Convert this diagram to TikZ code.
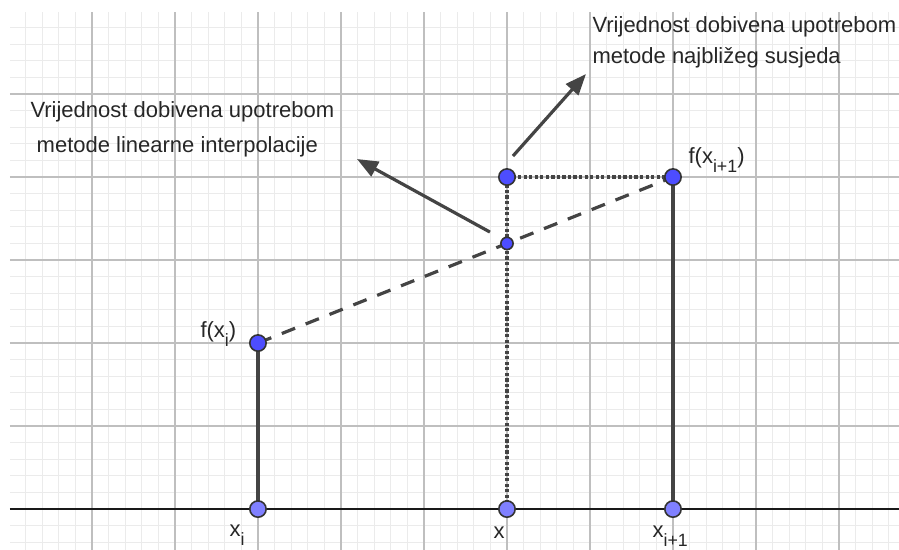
\documentclass[tikz,border=0pt]{standalone}
\usepackage{fontspec}
\setmainfont{Liberation Sans}
\usetikzlibrary{arrows.meta,positioning}
\definecolor{ptblue}{RGB}{77,77,255}
\definecolor{axblue}{RGB}{128,128,255}
\definecolor{segcol}{RGB}{68,68,68}
\newcommand\indx[1]{\raisebox{-0.42em}{\fontsize{6.1pt}{6.1pt}\selectfont #1}}

\begin{document}
\begin{tikzpicture}[>={Triangle[length=7.2pt,width=5.6pt]}]
  \tikzstyle{minorgrid}=[line width=0.35pt,black!8]
  \tikzstyle{majorgrid}=[line width=0.4pt,black!25]
  \tikzstyle{seg}=[line width=1.1pt,segcol]
  \tikzstyle{dots}=[line width=1.2pt,segcol,dash pattern=on 1.1pt off 0.8pt]
  \tikzstyle{pt}=[circle,draw=black!80,line width=0.55pt,fill=ptblue,inner sep=0pt,minimum size=5.6pt]
  \tikzstyle{axpt}=[pt,fill=axblue]
  \tikzstyle{lbl}=[inner sep=0pt,anchor=base west,text=black!85,font=\fontsize{7.54pt}{9pt}\selectfont]
  \tikzstyle{note}=[lbl,anchor=north west,align=left]
  \useasboundingbox (-3.108,-0.482) rectangle (7.723,6.133);
  \draw[minorgrid,step=0.2] (-2.99,-0.49) grid (7.73,5.99);
  \draw[majorgrid,step=1] (-2.99,-0.49) grid (7.73,5.99);
  \coordinate (axl) at (-2.99,0);
  \coordinate (axr) at (7.73,0);
  \draw[line width=0.7pt,black!90] (axl) -- (axr);
  \coordinate (xi) at (0,0);
  \coordinate (fxi) at (0,2);
  \coordinate (xx) at (3,0);
  \coordinate (fx) at (3,3.2);
  \coordinate (nn) at (3,4);
  \coordinate (xj) at (5,0);
  \coordinate (fxj) at (5,4);
  \coordinate (tlin) at (2.795,3.337);
  \coordinate (hlin) at (1.193,4.217);
  \coordinate (tnn) at (3.072,4.253);
  \coordinate (hnn) at (3.952,5.241);
  \draw[seg] (xi) -- (fxi);
  \draw[seg] (xj) -- (fxj);
  \draw[seg,dash pattern=on 4.9pt off 3.9pt] (fxi) -- (fxj);
  \draw[dots] (xx) -- (nn);
  \draw[dots] (nn) -- (fxj);
  \draw[seg,->] (tlin) -- (hlin);
  \draw[seg,->] (tnn) -- (hnn);
  \node[axpt] (pxi) at (xi) {};
  \node[axpt] (pxx) at (xx) {};
  \node[axpt] (pxj) at (xj) {};
  \node[pt] (pfxi) at (fxi) {};
  \node[pt] (pnn) at (nn) {};
  \node[pt] (pfxj) at (fxj) {};
  \node[pt,minimum size=4.2pt] (pfx) at (fx) {};
  \node[lbl] (lfxi) at ([shift={(-0.699,0.072)}]fxi) {f(x\indx{i})};
  \node[lbl] (lfxj) at ([shift={(0.181,0.169)}]fxj) {f(x\indx{i+1})};
  \node[lbl] (lxi) at ([shift={(-0.349,-0.33)}]xi) {x\indx{i}};
  \node[lbl] (lxx) at ([shift={(-0.169,-0.35)}]xx) {x};
  \node[lbl] (lxj) at ([shift={(-0.253,-0.345)}]xj) {x\indx{i+1}};
  \node[note,font=\fontsize{7.54pt}{11.8pt}\selectfont] (nlin) at (-2.747,4.912) {Vrijednost dobivena upotrebom\\\hspace*{0.28em}metode linearne interpolacije};
  \node[note,font=\fontsize{7.54pt}{10.8pt}\selectfont] (nnn) at (4.024,5.943) {Vrijednost dobivena upotrebom\\metode najbližeg susjeda};
\end{tikzpicture}
\end{document}
